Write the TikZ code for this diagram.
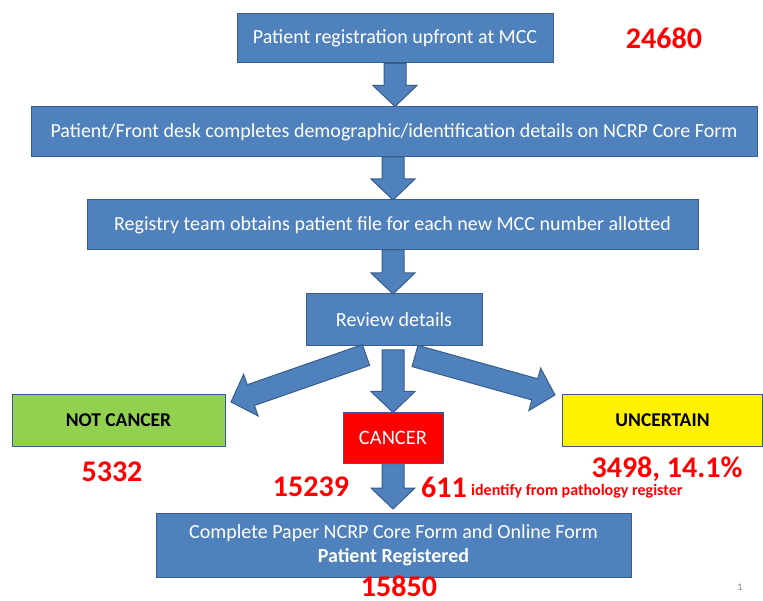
\documentclass[tikz,border=0pt]{standalone}
\usepackage{fontspec}
\setmainfont{Carlito}
\usetikzlibrary{calc}
\definecolor{boxblue}{HTML}{4F81BD}
\definecolor{boxline}{HTML}{385D8A}
\definecolor{ncgreen}{HTML}{92D050}
\newcommand{\blockarrow}[2]{%
  \coordinate (ba-b) at ($(#2)!21pt!(#1)$);
  \filldraw[fill=boxblue, draw=boxline, line width=1pt, line join=miter]
   ($(#1)!11pt!90:(#2)$) -- ($(ba-b)!11pt!90:(#2)$) -- ($(ba-b)!22pt!90:(#2)$) -- (#2)
   -- ($(ba-b)!22pt!-90:(#2)$) -- ($(ba-b)!11pt!-90:(#2)$) -- ($(#1)!11pt!-90:(#2)$) -- cycle;}
\begin{document}
\begin{tikzpicture}[x=1pt,y=-1pt,
  bluebox/.style={draw=boxline, fill=boxblue, line width=1pt, text=white,
    font=\fontsize{20}{23}\selectfont, inner sep=0pt},
  catbox/.style={draw=boxline, line width=1pt, inner sep=0pt,
    font=\bfseries\fontsize{19.5}{22}\selectfont},
  num/.style={text=red, inner sep=0pt, font=\bfseries\fontsize{30}{32}\selectfont}]
\useasboundingbox (0,0) rectangle (763,601);

\node[bluebox, minimum width=316pt, minimum height=49pt] (b1) at (395,38.5) {Patient registration upfront at MCC};
\node[bluebox, minimum width=726pt, minimum height=50pt] (b2) at (394,132) {Patient/Front desk completes demographic/identification details on NCRP Core Form};
\node[bluebox, minimum width=611pt, minimum height=50pt] (b3) at (392.5,225) {Registry team obtains patient file for each new MCC number allotted};
\node[bluebox, minimum width=176pt, minimum height=52pt] (rev) at (394,320) {Review details};
\node[catbox, fill=ncgreen, minimum width=213pt, minimum height=51pt] (nc) at (118.5,420.5) {NOT CANCER};
\node[catbox, fill=red, text=white, font=\fontsize{20.5}{23}\selectfont, minimum width=100pt, minimum height=50pt] (ca) at (393,438) {CANCER};
\node[catbox, fill=yellow, minimum width=200pt, minimum height=51pt] (un) at (662.5,420.5) {UNCERTAIN};
\node[bluebox, minimum width=475pt, minimum height=64pt, align=center, font=\fontsize{20}{24}\selectfont] (fin) at (393.5,545)
  {Complete Paper NCRP Core Form and Online Form\\\textbf{Patient Registered}};

\node[num] (n1) at (664,38) {24680};
\node[num] (n2) at (112,472) {5332};
\node[num] (n3) at (311,487) {15239};
\node[num] (n4) at (444,487) {611};
\node[text=red, inner sep=0pt, anchor=west, font=\bfseries\fontsize{16}{18}\selectfont] (n5) at (471,491) {identify from pathology register};
\node[num] (n6) at (667,469) {3498, 14.1\%};
\node[num] (n7) at (399,586) {15850};
\node[text=gray, inner sep=0pt, font=\fontsize{10}{12}\selectfont] (pg) at (740,587) {1};

\coordinate (a1s) at (b1.south);
\coordinate (a1e) at (b1.south |- b2.north);
\coordinate (a2s) at (393,157);
\coordinate (a2e) at (393,200);
\coordinate (a3s) at (393,250);
\coordinate (a3e) at (393,294);
\coordinate (cs) at (393,350);
\coordinate (ce) at (ca.north);
\coordinate (ls) at (366,355);
\coordinate (le) at (231,402);
\coordinate (rs) at (415,356);
\coordinate (re) at (555,395);
\coordinate (fs) at (ca.south);
\coordinate (fe) at (393,509);

\blockarrow{a1s}{a1e}
\blockarrow{a2s}{a2e}
\blockarrow{a3s}{a3e}
\blockarrow{cs}{ce}
\blockarrow{ls}{le}
\blockarrow{rs}{re}
\blockarrow{fs}{fe}
\end{tikzpicture}
\end{document}
